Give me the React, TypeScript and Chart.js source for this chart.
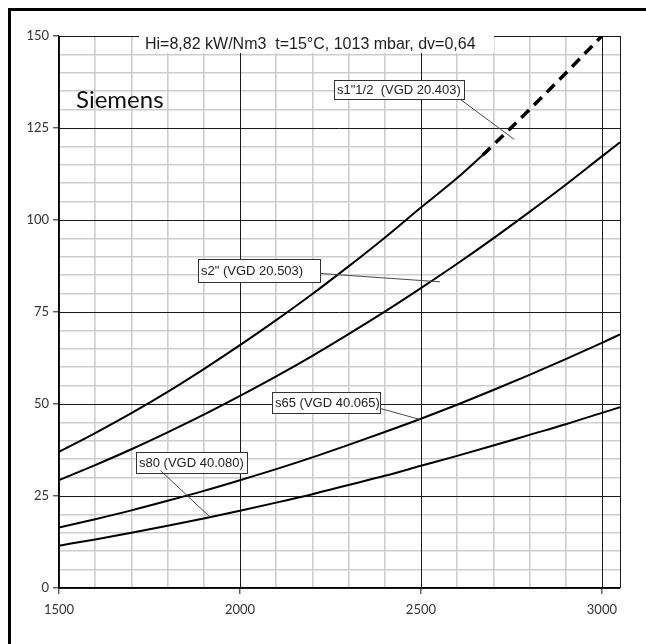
import React, { useEffect, useRef } from 'react';
import { Chart, registerables } from 'chart.js';

Chart.register(...registerables);

// ---- data ----
const X_VALUES = [1500, 1600, 1700, 1800, 1900, 2000, 2100, 2200, 2300, 2400, 2500, 2600, 2700, 2800, 2900, 3000, 3050];
const S1_X = [1500, 1600, 1700, 1800, 1900, 2000, 2100, 2200, 2300, 2400, 2500, 2600, 2670, 2700, 2800, 2900, 3000];
const S1_Y = [37.0, 42.1, 47.5, 53.3, 59.5, 66.0, 72.8, 79.9, 87.4, 95.2, 103.4, 111.4, 117.6, 120.4, 130.0, 139.9, 150.0];
const S2_Y = [29.3, 33.4, 37.7, 42.3, 47.1, 52.2, 57.5, 63.1, 69.0, 75.1, 81.5, 88.1, 95.0, 102.2, 109.6, 117.3, 121.1];
const S65_Y = [16.4, 18.7, 21.1, 23.7, 26.4, 29.3, 32.3, 35.5, 38.9, 42.4, 46.0, 49.8, 53.8, 57.9, 62.2, 66.6, 68.9];
const S80_Y = [11.5, 13.2, 15.0, 16.9, 18.9, 21.0, 23.2, 25.5, 28.0, 30.5, 33.2, 35.9, 38.7, 41.6, 44.5, 47.6, 49.1];
const DASH_FROM_X = 2670;

const X_MIN = 1500;
const X_MAX = 3050;
const Y_MIN = 0;
const Y_MAX = 150;
const X_MAJOR = 500;
const X_MINOR = 100;
const Y_MAJOR = 25;
const Y_MINOR = 5;

const SERIES_NAMES = ['s1"1/2  (VGD 20.403)', 's2" (VGD 20.503)', 's65 (VGD 40.065)', 's80 (VGD 40.080)'];
const TITLE = 'Hi=8,82 kW/Nm3  t=15°C, 1013 mbar, dv=0,64';
const BRAND = 'Siemens';

// ---- callout placement (data units for anchors, px for box sizes) ----
const CALLOUTS = [
  { text: SERIES_NAMES[0], bx: 2260, by: 138.0, w: 130, h: 19, fdx: 126, fdy: 19, tx: 2758, ty: 121.9 },
  { text: SERIES_NAMES[1], bx: 1884, by: 89.4, w: 122, h: 23, fdx: 122, fdy: 14, tx: 2553, ty: 83.2 },
  { text: SERIES_NAMES[2], bx: 2089, by: 53.3, w: 108, h: 21, fdx: 108, fdy: 16, tx: 2497, ty: 45.8 },
  { text: SERIES_NAMES[3], bx: 1713, by: 37.0, w: 111, h: 21, fdx: 24, fdy: 18, tx: 1917, ty: 19.3 },
];

const pts = (xs: number[], ys: number[]) => xs.map((x, i) => ({ x, y: ys[i] }));

const gridValues = (min: number, max: number, step: number) => {
  const out: number[] = [];
  for (let v = min; v <= max + 1e-9; v += step) out.push(v);
  if (out[out.length - 1] !== max) out.push(max);
  return out;
};

const isMajorX = (v: number) => v % X_MAJOR === 0 || v === X_MAX;
const isMajorY = (v: number) => v % Y_MAJOR === 0;
const MINOR_COLOR = '#cdcdcd';
const MAJOR_COLOR = '#1a1a1a';

const crisp = (v: number) => Math.round(v) + 0.5;

const decorPlugin = {
  id: 'decor',
  beforeDraw(chart: any) {
    const { ctx, width, height } = chart;
    ctx.save();
    ctx.fillStyle = '#ffffff';
    ctx.fillRect(0, 0, width, height);
    ctx.restore();
  },
  beforeDatasetsDraw(chart: any) {
    const { ctx, chartArea, scales } = chart;
    ctx.save();
    ctx.strokeStyle = MAJOR_COLOR;
    ctx.lineWidth = 1;
    ctx.beginPath();
    for (const v of gridValues(X_MIN, X_MAX, X_MINOR).filter(isMajorX)) {
      const px = crisp(scales.x.getPixelForValue(v));
      ctx.moveTo(px, chartArea.top);
      ctx.lineTo(px, chartArea.bottom);
    }
    for (const v of gridValues(Y_MIN, Y_MAX, Y_MINOR).filter(isMajorY)) {
      const py = crisp(scales.y.getPixelForValue(v));
      ctx.moveTo(chartArea.left, py);
      ctx.lineTo(chartArea.right, py);
    }
    ctx.stroke();
    ctx.restore();
  },
  afterDatasetsDraw(chart: any) {
    const { ctx, chartArea, scales } = chart;
    const xs = scales.x;
    const ys = scales.y;
    ctx.save();

    // title box
    ctx.fillStyle = '#ffffff';
    ctx.fillRect(chartArea.left + 80, chartArea.top - 8, 355, 25);
    ctx.fillStyle = '#1e1e1e';
    ctx.font = '16px "Liberation Sans", Arial, sans-serif';
    ctx.textBaseline = 'alphabetic';
    ctx.textAlign = 'left';
    ctx.fillText(TITLE, chartArea.left + 86, chartArea.top + 12.5);

    // brand
    ctx.fillStyle = '#111111';
    ctx.font = '24px Lato, "Open Sans", sans-serif';
    ctx.fillText(BRAND, chartArea.left + 17, chartArea.top + 72);

    // callouts
    ctx.font = '13px "Liberation Sans", Arial, sans-serif';
    ctx.textBaseline = 'middle';
    for (const c of CALLOUTS) {
      const left = crisp(xs.getPixelForValue(c.bx));
      const top = crisp(ys.getPixelForValue(c.by));
      ctx.fillStyle = '#ffffff';
      ctx.fillRect(left, top, c.w, c.h);
      ctx.strokeStyle = '#333333';
      ctx.lineWidth = 1;
      ctx.strokeRect(left, top, c.w, c.h);
      ctx.fillStyle = '#222222';
      ctx.fillText(c.text, left + 2.5, top + c.h / 2 + 0.5);
      ctx.beginPath();
      ctx.strokeStyle = '#4a4a4a';
      ctx.moveTo(left + c.fdx, top + c.fdy);
      ctx.lineTo(xs.getPixelForValue(c.tx), ys.getPixelForValue(c.ty));
      ctx.stroke();
    }
    ctx.restore();
  },
  afterDraw(chart: any) {
    const { ctx, width, height } = chart;
    ctx.save();
    ctx.fillStyle = '#000000';
    ctx.fillRect(8, 8, 3, height - 8);
    ctx.fillRect(8, 8, width - 8, 3);
    ctx.restore();
  },
};

export default function App() {
  const ref = useRef<HTMLCanvasElement>(null);

  useEffect(() => {
    document.body.style.margin = '0';
    const canvas = ref.current!;
    const base = {
      borderColor: '#000000',
      borderWidth: 2,
      pointRadius: 0,
      pointHoverRadius: 0,
      fill: false,
      cubicInterpolationMode: 'monotone' as const,
    };
    const chart = new Chart(canvas, {
      type: 'line',
      data: {
        datasets: [
          {
            ...base,
            label: SERIES_NAMES[0],
            data: pts(S1_X, S1_Y),
            segment: {
              borderDash: (c: any) => (c.p0.parsed.x >= DASH_FROM_X ? [11, 7] : undefined),
              borderWidth: (c: any) => (c.p0.parsed.x >= DASH_FROM_X ? 3.5 : 2),
            },
          },
          { ...base, label: SERIES_NAMES[1], data: pts(X_VALUES, S2_Y) },
          { ...base, label: SERIES_NAMES[2], data: pts(X_VALUES, S65_Y) },
          { ...base, label: SERIES_NAMES[3], data: pts(X_VALUES, S80_Y) },
        ],
      },
      options: {
        responsive: false,
        animation: false,
        devicePixelRatio: 1,
        events: [],
        layout: { padding: { left: 0, top: 36, right: 26, bottom: 0 } },
        plugins: {
          legend: { display: false },
          tooltip: { enabled: false },
          title: { display: false },
        },
        scales: {
          x: {
            type: 'linear',
            min: X_MIN,
            max: X_MAX,
            afterBuildTicks: (s: any) => {
              s.ticks = gridValues(X_MIN, X_MAX, X_MINOR).map((value) => ({ value }));
            },
            afterFit: (s: any) => {
              s.height = 56;
            },
            ticks: {
              autoSkip: false,
              maxRotation: 0,
              minRotation: 0,
              padding: 8,
              color: '#333333',
              font: { family: 'Lato, "Open Sans", sans-serif', size: 13 },
              callback: (v: any) => (Number(v) % X_MAJOR === 0 ? String(v) : ''),
            },
            grid: {
              color: (c: any) => (c.tick && isMajorX(c.tick.value) ? 'rgba(0,0,0,0)' : MINOR_COLOR),
              lineWidth: 1.6,
              tickColor: (c: any) =>
                c.tick && c.tick.value % X_MAJOR === 0 ? MAJOR_COLOR : 'rgba(0,0,0,0)',
              tickWidth: 1,
              tickLength: 6,
              drawTicks: true,
            },
            border: { display: true, color: '#000000', width: 1.2 },
          },
          y: {
            type: 'linear',
            min: Y_MIN,
            max: Y_MAX,
            afterBuildTicks: (s: any) => {
              s.ticks = gridValues(Y_MIN, Y_MAX, Y_MINOR).map((value) => ({ value }));
            },
            afterFit: (s: any) => {
              s.width = 59;
            },
            ticks: {
              autoSkip: false,
              padding: 4,
              color: '#333333',
              font: { family: 'Lato, "Open Sans", sans-serif', size: 13 },
              callback: (v: any) => (isMajorY(Number(v)) ? String(v) : ''),
            },
            grid: {
              color: (c: any) => (c.tick && isMajorY(c.tick.value) ? 'rgba(0,0,0,0)' : MINOR_COLOR),
              lineWidth: 1.6,
              tickColor: (c: any) => (c.tick && isMajorY(c.tick.value) ? MAJOR_COLOR : 'rgba(0,0,0,0)'),
              tickWidth: 1,
              tickLength: 6,
              drawTicks: true,
            },
            border: { display: true, color: '#000000', width: 1.2 },
          },
        },
      } as any,
      plugins: [decorPlugin],
    });
    return () => chart.destroy();
  }, []);

  return (
    <div style={{ width: 646, height: 644, overflow: 'hidden', background: '#fff' }}>
      <canvas ref={ref} width={646} height={644} style={{ display: 'block' }} />
    </div>
  );
}
